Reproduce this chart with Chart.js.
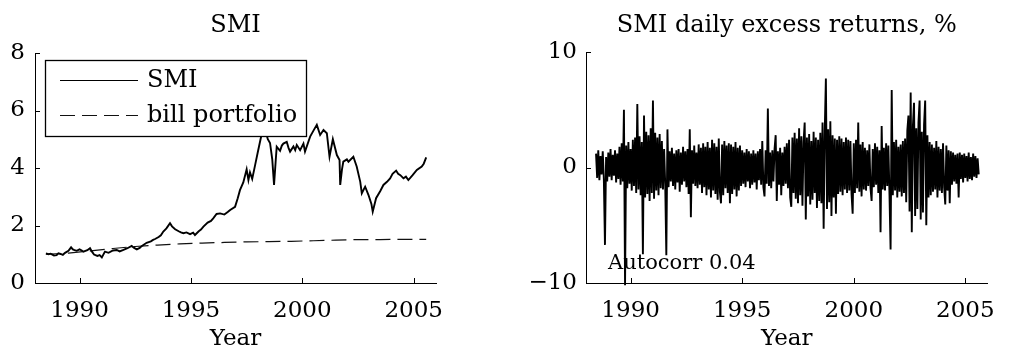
<!DOCTYPE html>
<html><head><meta charset="utf-8">
<script src="https://cdn.jsdelivr.net/npm/chart.js@4.4.1/dist/chart.umd.min.js"></script>
<style>
html,body{margin:0;padding:0;background:#fff;width:1009px;height:353px;overflow:hidden}
canvas{position:absolute;top:0}
#c1{left:0}
#c2{left:500px}
</style></head><body>
<canvas id="c1" width="480" height="353"></canvas>
<canvas id="c2" width="509" height="353"></canvas>
<script>
// ---------- data ----------
const smiYears=[1988.49,1988.6,1988.7,1988.85,1988.97,1989.05,1989.15,1989.25,1989.35,1989.5,1989.62,1989.7,1989.75,1989.87,1990.0,1990.1,1990.17,1990.35,1990.47,1990.55,1990.65,1990.8,1990.9,1991.0,1991.14,1991.3,1991.5,1991.67,1991.8,1991.97,1992.15,1992.34,1992.45,1992.57,1992.7,1992.8,1993.01,1993.2,1993.3,1993.39,1993.55,1993.65,1993.76,1993.9,1994.06,1994.15,1994.29,1994.45,1994.55,1994.66,1994.8,1994.96,1995.1,1995.18,1995.35,1995.45,1995.56,1995.75,1995.9,1996.0,1996.15,1996.31,1996.5,1996.65,1996.76,1996.98,1997.1,1997.2,1997.35,1997.45,1997.5,1997.58,1997.65,1997.75,1997.88,1998.0,1998.18,1998.33,1998.45,1998.55,1998.65,1998.73,1998.8,1998.85,1999.0,1999.08,1999.15,1999.3,1999.38,1999.45,1999.6,1999.68,1999.75,1999.9,2000.05,2000.12,2000.35,2000.5,2000.65,2000.8,2000.95,2001.1,2001.22,2001.37,2001.55,2001.67,2001.7,2001.78,2001.84,2002.0,2002.07,2002.29,2002.44,2002.6,2002.67,2002.82,2002.97,2003.1,2003.16,2003.31,2003.5,2003.64,2003.8,2003.94,2004.05,2004.21,2004.3,2004.4,2004.54,2004.65,2004.76,2004.95,2005.14,2005.36,2005.45,2005.56];
const smiValues=[1.03,1.00,1.02,0.96,0.97,1.03,1.01,0.98,1.05,1.12,1.24,1.17,1.15,1.12,1.17,1.13,1.09,1.14,1.21,1.10,0.99,0.94,0.97,0.89,1.09,1.05,1.13,1.15,1.10,1.15,1.21,1.29,1.22,1.17,1.22,1.29,1.40,1.45,1.50,1.53,1.60,1.66,1.79,1.90,2.08,1.97,1.87,1.80,1.76,1.73,1.76,1.70,1.75,1.67,1.80,1.86,1.96,2.10,2.16,2.25,2.40,2.42,2.38,2.47,2.54,2.65,2.95,3.23,3.50,3.80,3.95,3.58,3.85,3.62,4.10,4.55,5.20,5.35,5.00,4.87,4.30,3.41,4.20,4.74,4.60,4.78,4.85,4.91,4.70,4.57,4.75,4.62,4.80,4.62,4.85,4.57,5.09,5.30,5.50,5.15,5.32,5.21,4.39,5.00,4.45,4.28,3.41,3.95,4.22,4.30,4.22,4.39,4.05,3.52,3.12,3.35,3.06,2.75,2.48,2.95,3.20,3.41,3.52,3.64,3.80,3.91,3.80,3.75,3.64,3.70,3.58,3.75,3.93,4.05,4.15,4.37];
const billYears=[1988.49,1989.5,1990.5,1991.5,1992.5,1993.5,1994.5,1995.5,1996.5,1997.5,1998.5,1999.5,2000.5,2001.5,2002.5,2003.5,2004.5,2005.56];
const billValues=[1.00,1.04,1.12,1.20,1.27,1.32,1.36,1.39,1.41,1.43,1.44,1.45,1.47,1.49,1.51,1.51,1.52,1.52];

// daily excess returns (%), sampled; first observation and spacing in years
const retStart=1988.45, retStep=0.05;
const returns=[
1.2,-0.9,1.5,-1.1,1.0,-0.6,1.4,-1.0,-6.7,0.9,-1.2,1.3,-0.8,1.6,-1.1,1.1,-0.7,1.5,-1.3,1.2,
-1.0,1.8,-1.5,2.1,-1.2,5.0,-10.2,1.9,-1.8,2.2,-1.4,1.6,-2.0,2.4,-1.6,2.6,-2.2,5.5,-1.9,2.7,
-2.4,2.2,-7.5,4.5,-2.6,3.1,-2.3,2.8,-2.9,3.4,-2.2,5.8,-2.7,3.0,-2.0,2.6,-2.4,2.9,-1.8,2.3,
-1.9,1.6,-1.4,-7.6,3.3,-1.7,1.4,-1.2,1.7,-1.6,1.2,-1.9,1.5,-1.3,1.6,-2.1,1.3,-1.5,1.8,-1.2,
1.4,-1.7,1.6,-2.3,3.3,-4.3,1.5,-1.4,1.9,-1.6,1.3,-1.8,2.0,-1.5,1.7,-2.2,2.1,-1.7,1.8,-2.4,
2.2,-1.9,1.7,-2.6,2.4,-2.0,2.1,-2.3,1.8,-2.8,2.5,-2.1,-3.1,2.0,-2.4,2.3,-1.8,1.9,-2.2,2.1,
-3.1,2.0,-2.3,1.8,-1.9,2.2,-2.5,1.7,-2.0,1.9,-1.6,1.5,-1.4,1.3,-1.7,1.6,-1.2,1.4,-1.8,1.2,
-1.5,1.5,-1.3,1.2,-1.9,1.4,-1.1,1.6,-1.5,2.3,-1.7,-2.5,1.5,-1.4,5.1,-1.6,1.3,-1.8,1.5,-1.2,
1.6,2.8,-2.9,1.4,-1.5,1.7,-2.4,1.3,-1.6,1.8,-1.4,2.1,-1.8,2.4,-2.6,-3.4,2.6,-2.2,3.0,-2.7,
2.5,-3.1,3.4,-2.4,2.7,-3.3,2.2,3.9,-4.5,2.6,-2.5,2.9,-3.2,2.3,-2.8,3.1,-2.2,2.6,-3.5,2.4,
-2.9,3.0,-3.1,3.9,-5.3,3.2,7.7,-3.6,3.3,-3.0,4.0,-4.2,2.8,-2.6,2.5,-4.0,2.4,-2.3,2.7,-2.1,
2.5,-2.4,2.2,-1.9,2.6,-2.2,2.4,-2.0,2.3,-2.3,-4.0,2.1,-2.2,2.4,-1.8,3.9,-2.1,2.0,-2.5,2.2,
-1.9,1.7,-2.0,1.5,-1.6,2.0,-1.8,-2.9,1.6,-1.7,2.1,-1.5,1.8,-2.2,1.5,-5.6,3.6,-1.9,1.7,-2.0,
2.1,-1.6,1.9,-2.3,-7.1,6.7,-2.4,2.2,-2.0,2.4,-2.6,1.8,-2.1,2.0,-2.5,2.3,-2.2,2.5,-3.0,3.2,
4.5,-3.8,6.5,-5.6,3.6,5.6,-4.2,3.4,-3.6,3.9,5.8,-4.5,3.1,-3.9,3.7,5.8,-5.0,2.8,-2.6,2.2,
-2.4,2.0,-2.1,1.7,-1.9,2.3,-2.6,1.8,-2.0,1.6,-2.2,2.1,-1.7,-3.2,1.9,-2.0,1.5,-3.1,1.4,-1.5,
1.3,-1.2,1.1,-1.4,1.2,-2.6,1.3,-1.0,1.1,-1.3,1.2,-0.9,1.0,-1.2,1.3,-1.0,0.9,-1.1,1.2,-0.8,
1.0,-0.9,0.8,-0.6];

const xTicks=[1990,1995,2000,2005];
const leftYTicks=[0,2,4,6,8];
const rightYTicks=[-10,0,10];
const rightYTickLabels=['\u221210','0','10'];
const leftTitle='SMI';
const rightTitle='SMI daily excess returns, %';
const xTitle='Year';
const autocorrText='Autocorr 0.04';

// ---------- styling ----------
const FONT='"DejaVu Serif", serif';
Chart.defaults.font.family=FONT;
Chart.defaults.color='#000';

const inwardTicks={id:'inwardTicks',afterDraw(chart){
  const ctx=chart.ctx,a=chart.chartArea,xs=chart.scales.x,ys=chart.scales.y;
  ctx.save();ctx.strokeStyle='#000';ctx.lineWidth=1;
  xs.ticks.forEach(t=>{const p=Math.round(xs.getPixelForValue(t.value))+0.5;ctx.beginPath();ctx.moveTo(p,a.bottom);ctx.lineTo(p,a.bottom-5);ctx.stroke();});
  ys.ticks.forEach(t=>{const p=Math.round(ys.getPixelForValue(t.value))+0.5;ctx.beginPath();ctx.moveTo(a.left,p);ctx.lineTo(a.left+5,p);ctx.stroke();});
  ctx.restore();
}};
const titlePlug={id:'titlePlug',afterDraw(chart,args,opts){
  const ctx=chart.ctx,a=chart.chartArea;
  ctx.save();ctx.fillStyle='#000';ctx.font='24px '+FONT;ctx.textAlign='center';ctx.textBaseline='alphabetic';
  ctx.fillText(opts.text,(a.left+a.right)/2,opts.y);ctx.restore();
}};
const legendPlug={id:'legendPlug',afterDatasetsDraw(chart){
  const ctx=chart.ctx,a=chart.chartArea;
  const bx=a.left+10,by=a.top+7,bw=261,bh=76;
  ctx.save();
  ctx.fillStyle='#fff';ctx.fillRect(bx,by,bw,bh);
  ctx.strokeStyle='#000';ctx.lineWidth=1.3;ctx.strokeRect(bx+0.5,by+0.5,bw,bh);
  ctx.font='24px '+FONT;ctx.fillStyle='#000';ctx.textBaseline='middle';ctx.textAlign='left';
  chart.data.datasets.forEach((ds,i)=>{
    const y=by+20+i*35;
    ctx.beginPath();ctx.setLineDash(ds.borderDash||[]);ctx.lineWidth=1.2;ctx.strokeStyle=ds.borderColor;
    ctx.moveTo(bx+15,y+0.5);ctx.lineTo(bx+93,y+0.5);ctx.stroke();
    ctx.setLineDash([]);
    ctx.fillText(ds.label,bx+102,y+1);
  });
  ctx.restore();
}};
const autocorrPlug={id:'autocorrPlug',afterDraw(chart){
  const ctx=chart.ctx,a=chart.chartArea;
  ctx.save();ctx.font='21px '+FONT;ctx.fillStyle='#000';ctx.textAlign='left';ctx.textBaseline='alphabetic';
  ctx.fillText(autocorrText,a.left+22,a.bottom-14);ctx.restore();
}};

function xScale(){return {type:'linear',min:1988,max:2006,
  afterBuildTicks:s=>{s.ticks=xTicks.map(v=>({value:v}));},
  afterFit:s=>{s.height=70;},
  grid:{display:false,drawTicks:false},border:{display:true,color:'#000',width:1},
  ticks:{font:{size:23},color:'#000',padding:14,maxRotation:0,autoSkip:false,callback:v=>String(v)},
  title:{display:true,text:xTitle,font:{size:23},color:'#000',padding:{top:1,bottom:0}}};}

const base={responsive:false,animation:false,devicePixelRatio:1,
  plugins:{legend:{display:false},tooltip:{enabled:false}},
  elements:{point:{radius:0},line:{tension:0}}};

new Chart(document.getElementById('c1'),{type:'line',
  data:{datasets:[
    {label:'SMI',data:smiYears.map((x,i)=>({x,y:smiValues[i]})),borderColor:'#000',borderWidth:1.9},
    {label:'bill portfolio',data:billYears.map((x,i)=>({x,y:billValues[i]})),borderColor:'#111',borderWidth:1.2,borderDash:[15,7]}
  ]},
  options:{...base,layout:{padding:{top:53,right:44,left:0,bottom:0}},
    plugins:{...base.plugins,titlePlug:{text:leftTitle,y:32}},
    scales:{x:xScale(),
      y:{min:0,max:8,afterBuildTicks:s=>{s.ticks=leftYTicks.map(v=>({value:v}));},afterFit:s=>{s.width=35;},
        grid:{display:false,drawTicks:false},border:{display:true,color:'#000',width:1},
        ticks:{font:{size:23},color:'#000',padding:10,callback:v=>String(v)}}}},
  plugins:[inwardTicks,titlePlug,legendPlug]});

new Chart(document.getElementById('c2'),{type:'line',
  data:{datasets:[
    {label:'returns',data:returns.map((v,i)=>({x:retStart+i*retStep,y:v})),borderColor:'#000',borderWidth:1.9,clip:false}
  ]},
  options:{...base,layout:{padding:{top:52,right:7,left:0,bottom:0}},
    plugins:{...base.plugins,titlePlug:{text:rightTitle,y:32}},
    scales:{x:xScale(),
      y:{min:-10,max:10,afterBuildTicks:s=>{s.ticks=rightYTicks.map(v=>({value:v}));},afterFit:s=>{s.width=86;},
        grid:{display:false,drawTicks:false},border:{display:true,color:'#000',width:1},
        ticks:{font:{size:23},color:'#000',padding:9,callback:(v)=>rightYTickLabels[rightYTicks.indexOf(v)]}}}},
  plugins:[inwardTicks,titlePlug,autocorrPlug]});
</script>
</body></html>
